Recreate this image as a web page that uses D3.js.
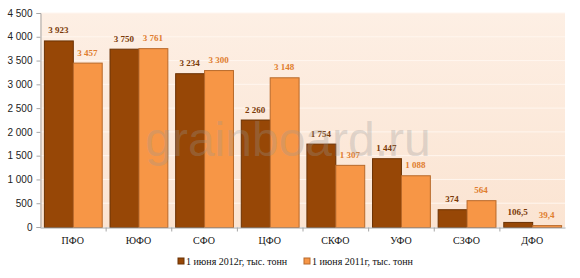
<!DOCTYPE html>
<html>
<head>
<meta charset="utf-8">
<script src="https://cdn.jsdelivr.net/npm/d3@7"></script>
<style>
  body { margin: 0; background: #fff; }
  svg { display: block; }
</style>
</head>
<body>
<svg id="chart" width="580" height="278"></svg>
<script>
// data
const regions = ["ПФО", "ЮФО", "СФО", "ЦФО", "СКФО", "УФО", "СЗФО", "ДФО"];
const values2012 = [3923, 3750, 3234, 2260, 1754, 1447, 374, 106.5];
const values2011 = [3457, 3761, 3300, 3148, 1307, 1088, 564, 39.4];
const labels2012 = ["3 923", "3 750", "3 234", "2 260", "1 754", "1 447", "374", "106,5"];
const labels2011 = ["3 457", "3 761", "3 300", "3 148", "1 307", "1 088", "564", "39,4"];
const yTicks = [0, 500, 1000, 1500, 2000, 2500, 3000, 3500, 4000, 4500];
const seriesNames = ["1 июня 2012г, тыс. тонн", "1 июня 2011г, тыс. тонн"];

const svg = d3.select("#chart");
const plotLeft = 40, plotRight = 565, plotTop = 13, plotBottom = 227;

const x = d3.scaleBand().domain(regions).range([plotLeft, plotRight]).paddingInner(0).paddingOuter(0);
const inner = d3.scaleBand().domain([0, 1]).range([0, x.bandwidth()]).paddingInner(0).paddingOuter(0.135);
const y = d3.scaleLinear().domain([0, 4500]).range([plotBottom, plotTop]);

const fills = ["#974706", "#F79646"];
const strokes = ["#6b3204", "#b8692a"];
const labelColors = ["#7a3a08", "#e07d2e"];

// plot background
const grad = svg.append("defs").append("linearGradient")
  .attr("id", "bg").attr("x1", 0).attr("y1", 0).attr("x2", 0).attr("y2", 1);
grad.append("stop").attr("offset", "0%").attr("stop-color", "#fdefe4");
grad.append("stop").attr("offset", "100%").attr("stop-color", "#fbe4d2");
svg.append("rect")
  .attr("x", plotLeft).attr("y", plotTop)
  .attr("width", plotRight - plotLeft).attr("height", plotBottom - plotTop)
  .attr("fill", "url(#bg)");

// gridlines
svg.append("g").selectAll("line")
  .data(yTicks.filter(d => d > 0))
  .join("line")
  .attr("x1", plotLeft).attr("x2", plotRight)
  .attr("y1", d => y(d)).attr("y2", d => y(d))
  .attr("stroke", "#fff6ef").attr("stroke-width", 1);

// bars
const series = [values2012, values2011];
const labels = [labels2012, labels2011];
series.forEach((vals, s) => {
  svg.append("g").selectAll("rect")
    .data(vals)
    .join("rect")
    .attr("x", (d, i) => x(regions[i]) + inner(s) + 0.5)
    .attr("y", d => y(d) + 0.5)
    .attr("width", inner.bandwidth())
    .attr("height", d => plotBottom - y(d))
    .attr("fill", fills[s])
    .attr("stroke", strokes[s])
    .attr("stroke-width", 1);

  svg.append("g").selectAll("text")
    .data(vals)
    .join("text")
    .attr("x", (d, i) => x(regions[i]) + inner(s) + inner.bandwidth() / 2)
    .attr("y", d => y(d) - 7)
    .attr("text-anchor", "middle")
    .attr("font-family", "Liberation Serif, Times New Roman, serif")
    .attr("font-weight", "bold")
    .attr("font-size", 9)
    .attr("fill", labelColors[s])
    .text((d, i) => labels[s][i]);
});

// watermark, sits over the bars
svg.append("text")
  .attr("x", 288).attr("y", 156)
  .attr("text-anchor", "middle")
  .attr("font-family", "Liberation Sans, Arial, sans-serif")
  .attr("font-size", 48)
  .attr("fill", "rgba(150,150,150,0.3)")
  .attr("pointer-events", "none")
  .text("grainboard.ru");

// y axis
const yAxis = d3.axisLeft(y).tickValues(yTicks).tickSize(4)
  .tickFormat(d => d3.format(",")(d).replace(/,/g, " "));
const gy = svg.append("g").attr("transform", `translate(${plotLeft + 0.5},0)`).call(yAxis);
gy.select(".domain").attr("stroke", "#a6a6a6");
gy.selectAll(".tick line").attr("stroke", "#a6a6a6");
gy.selectAll(".tick text")
  .attr("font-family", "Liberation Sans, Arial, sans-serif")
  .attr("font-size", 10)
  .attr("fill", "#222")
  .attr("x", -8);

// x axis
const gx = svg.append("g").attr("transform", `translate(0,${plotBottom + 0.5})`)
  .call(d3.axisBottom(x).tickSize(0).tickPadding(9));
gx.select(".domain").attr("stroke", "#a6a6a6");
gx.selectAll(".tick text")
  .attr("font-family", "Liberation Serif, Times New Roman, serif")
  .attr("font-size", 10)
  .attr("fill", "#111");
gx.selectAll(".sep")
  .data(regions.slice(1))
  .join("line")
  .attr("class", "sep")
  .attr("x1", d => x(d) + 0.5).attr("x2", d => x(d) + 0.5)
  .attr("y1", 0).attr("y2", 4)
  .attr("stroke", "#a6a6a6");

// legend
const legendX = [178, 304];
const lg = svg.append("g");
seriesNames.forEach((name, s) => {
  lg.append("rect")
    .attr("x", legendX[s]).attr("y", 258)
    .attr("width", 6).attr("height", 6)
    .attr("fill", fills[s]).attr("stroke", strokes[s]);
  lg.append("text")
    .attr("x", legendX[s] + 8).attr("y", 265)
    .attr("font-family", "Liberation Serif, Times New Roman, serif")
    .attr("font-size", 10)
    .attr("fill", "#111")
    .text(name);
});
</script>
</body>
</html>
